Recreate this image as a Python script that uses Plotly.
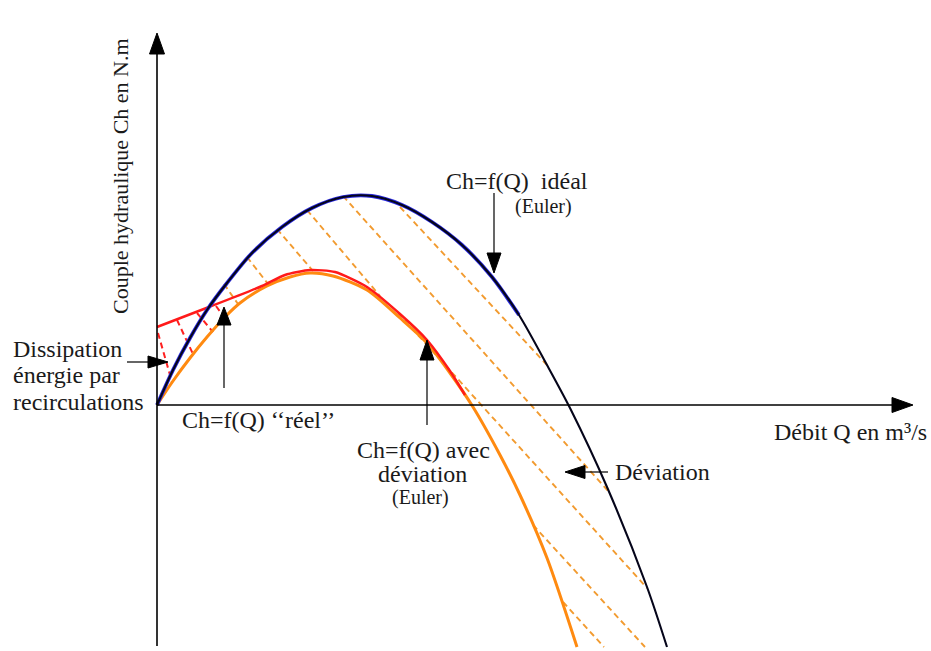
import math
import plotly.graph_objects as go

# ---- data (Q to the right of the origin, Ch upwards; arbitrary units) ----
ideal_q  = [0, 16, 33, 50, 70, 95, 125, 155, 186, 215, 245, 275, 305, 335, 362, 390, 413, 450, 490, 510]
ideal_ch = [0, 35, 67, 95, 122, 152, 178, 197, 208, 209, 200, 183, 160, 128, 90, 40, -3, -82, -182, -242]

dev_q  = [0, 16, 33, 50, 70, 83, 110, 133, 153, 176, 210, 243, 270, 293, 316, 343, 363, 390, 420]
dev_ch = [0, 24, 47, 68, 90, 102, 119, 128, 132, 129, 115, 87, 62, 32, -2, -50, -90, -153, -242]

real_q  = [0, 52, 105, 128, 153, 178, 210, 243, 270, 293, 308]
real_ch = [78, 98, 119, 130, 135, 133, 118, 91, 65, 34, 10]

# hatch segments (start, end)
red_hatch = [((1, 72), (15, 23)), ((20, 85), (36, 51)), ((40, 92), (56, 73)), ((59, 99), (67, 88))]
orange_hatch = [((67, 121), (81, 101)), ((90, 148), (111, 121)), ((120, 176), (156, 134)),
                ((150, 195), (223, 109)), ((186, 209), (453, -88)), ((243, 198), (390, 40)),
                ((241, 92), (490, -183)), ((376, -120), (488, -242)), ((406, -197), (447, -242))]

FONT = "Liberation Serif"
TXT = "#1a1a1a"

fig = go.Figure()

def seg_trace(segs, color, width, dash):
    xs, ys = [], []
    for (a, b) in segs:
        xs += [a[0], b[0], None]
        ys += [a[1], b[1], None]
    return go.Scatter(x=xs, y=ys, mode="lines", line=dict(color=color, width=width, dash=dash),
                      hoverinfo="skip")

fig.add_trace(seg_trace(orange_hatch, "#F29B30", 1.9, "6px,4px"))
fig.add_trace(seg_trace(red_hatch, "#FF2020", 2, "6px,4px"))

# curves
fig.add_trace(go.Scatter(x=dev_q, y=dev_ch, mode="lines", line=dict(color="#FF8A10", width=3, shape="spline", smoothing=0.8)))
fig.add_trace(go.Scatter(x=real_q, y=real_ch, mode="lines", line=dict(color="#FF1A1A", width=2.5, shape="spline", smoothing=0.6)))
nb = 15
fig.add_trace(go.Scatter(x=ideal_q[:nb], y=ideal_ch[:nb], mode="lines", line=dict(color="#2a2ae0", width=3.8, shape="spline", smoothing=0.8)))
fig.add_trace(go.Scatter(x=ideal_q, y=ideal_ch, mode="lines", line=dict(color="#05051a", width=2.1, shape="spline", smoothing=0.8)))

# arrows (tail, tip, head length, head width, line width)
arrows = [
    ((0, -241), (0, 372), 21, 15, 1.6),     # Ch axis
    ((0, 0), (756, 0), 21, 15, 1.6),        # Q axis
    ((337, 212), (337, 132), 20, 14, 1.2),  # idéal
    ((67, 17), (67, 98), 18, 14, 1.2),      # réel
    ((270, -20), (270, 65), 20, 14, 1.2),   # avec déviation
    ((451, -67), (408, -67), 20, 13, 1.2),  # Déviation
    ((-30, 43), (11, 43), 20, 12, 1.2),     # Dissipation
]
for tail, tip, L, W, lw in arrows:
    dx, dy = tip[0] - tail[0], tip[1] - tail[1]
    n = math.hypot(dx, dy)
    ux, uy = dx / n, dy / n
    bx, by = tip[0] - ux * L, tip[1] - uy * L
    nx, ny = -uy, ux
    fig.add_trace(go.Scatter(x=[tail[0], bx + ux * 2], y=[tail[1], by + uy * 2], mode="lines",
                             line=dict(color="black", width=lw), hoverinfo="skip"))
    fig.add_trace(go.Scatter(x=[tip[0], bx + nx * W / 2, bx - nx * W / 2, tip[0]],
                             y=[tip[1], by + ny * W / 2, by - ny * W / 2, tip[1]],
                             mode="lines", fill="toself", fillcolor="black",
                             line=dict(color="black", width=1), hoverinfo="skip"))

def X(p):
    return p - 157

def Y(p):
    return 405 - p

texts = [
    ("Couple hydraulique Ch en N.m", 120, 176, "center", 22, -90),
    ("Ch=f(Q)\u00a0\u00a0idéal", 444, 181, "left", 24, 0),
    ("(Euler)", 513, 206, "left", 20, 0),
    ("Dissipation", 11, 349, "left", 24, 0),
    ("énergie par", 11, 375, "left", 24, 0),
    ("recirculations", 11, 402, "left", 24, 0),
    ("Ch=f(Q) \u2018\u2018réel\u2019\u2019", 180, 420, "left", 24, 0),
    ("Ch=f(Q) avec", 423, 450, "center", 24, 0),
    ("déviation", 422, 474, "center", 24, 0),
    ("(Euler)", 420, 497, "center", 20, 0),
    ("Déviation", 613, 472, "left", 24, 0),
    ("Débit Q en m³/s", 772, 432, "left", 24, 0),
]
for t, x, y, anchor, size, ang in texts:
    fig.add_annotation(x=X(x), y=Y(y), xref="x", yref="y", text=t, showarrow=False,
                       xanchor=anchor, yanchor="middle", textangle=ang,
                       font=dict(family=FONT, size=size, color=TXT))

fig.update_layout(
    width=931, height=651, margin=dict(l=0, r=0, t=0, b=0),
    paper_bgcolor="white", plot_bgcolor="white", showlegend=False,
    xaxis=dict(visible=False, range=[-157, 774], fixedrange=True),
    yaxis=dict(visible=False, range=[-246, 405], fixedrange=True),
)

fig.write_html("out.html", config={"displayModeBar": False},
               post_script="document.body.style.margin='0';")
